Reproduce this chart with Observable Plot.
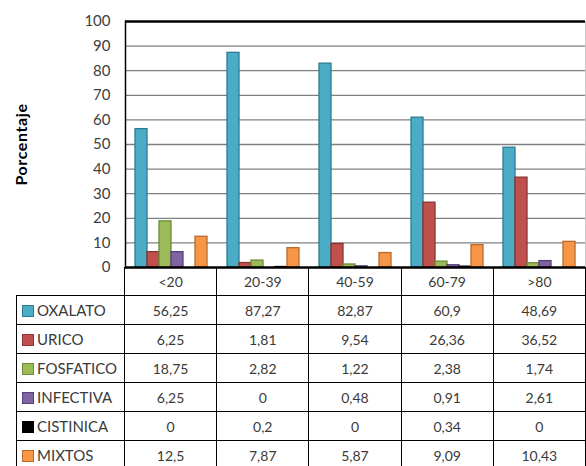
<!DOCTYPE html>
<html><head><meta charset="utf-8">
<script src="https://cdn.jsdelivr.net/npm/d3@7"></script>
<script src="https://cdn.jsdelivr.net/npm/@observablehq/plot@0.6"></script>
<style>
body{margin:0;background:#fff;font-family:Lato,"Open Sans",sans-serif;}
#wrap{position:relative;width:586px;height:466px;overflow:hidden;background:#fff;}
#chart{position:absolute;left:0;top:0;}
#chart svg [aria-label="y-axis label"] text{font-weight:bold;fill:#000;font-size:16px;letter-spacing:0.6px;}
table{position:absolute;left:16px;top:267px;border-collapse:collapse;table-layout:fixed;font-size:14px;color:#3a3a3a;font-family:Lato,sans-serif;background:transparent;}
td{border:1px solid #000;text-align:center;padding:0;height:28px;}
tr.hdr td{height:27px;}
td.blank{border:none;}
td.name{text-align:left;white-space:nowrap;font-size:15px;}
.sw{display:inline-block;width:10px;height:10px;margin:0 3px 0 5px;vertical-align:-1px;border:1px solid;}
</style></head>
<body>
<div id="wrap"><div id="chart"></div><table id="tbl"></table></div>
<script>
const categories = ["<20","20-39","40-59","60-79",">80"];
const series = ["OXALATO","URICO","FOSFATICO","INFECTIVA","CISTINICA","MIXTOS"];
const oxalato   = [56.25, 87.27, 82.87, 60.9, 48.69];
const urico     = [6.25, 1.81, 9.54, 26.36, 36.52];
const fosfatico = [18.75, 2.82, 1.22, 2.38, 1.74];
const infectiva = [6.25, 0, 0.48, 0.91, 2.61];
const cistinica = [0, 0.2, 0, 0.34, 0];
const mixtos    = [12.5, 7.87, 5.87, 9.09, 10.43];
const fills   = ["#4BACC6","#C0504D","#9BBB59","#8064A2","#000000","#F79646"];
const strokes = ["#2C7C93","#8A3431","#6C8A37","#56427A","#000000","#B96A2A"];
const yTicks = [0,10,20,30,40,50,60,70,80,90,100];

const values = [oxalato, urico, fosfatico, infectiva, cistinica, mixtos];
const data = [];
series.forEach((s, i) => categories.forEach((c, j) => data.push({cat: c, serie: s, value: values[i][j]})));
const strokeOf = Object.fromEntries(series.map((s, i) => [s, strokes[i]]));

const chart = Plot.plot({
  width: 586, height: 281,
  marginTop: 21, marginBottom: 14, marginLeft: 125, marginRight: 1,
  style: {fontFamily: "Lato, sans-serif", background: "transparent"},
  fx: {domain: categories, padding: 0, axis: null},
  x: {domain: series, paddingInner: 0, paddingOuter: 0.69, axis: null},
  y: {domain: [0, 100]},
  color: {domain: series, range: fills},
  marks: [
    Plot.ruleY(yTicks.filter(d => d > 0 && d < 100), {stroke: "#7f7f7f", strokeWidth: 1.3}),
    Plot.frame({anchor: "right", facetAnchor: "right", stroke: "#c8c8c8"}),
    Plot.barY(data, {fx: "cat", x: "serie", y: "value", fill: "serie", stroke: d => strokeOf[d.serie], strokeWidth: 1.3}),
    Plot.ruleY([100], {stroke: "#000", strokeWidth: 2.5}),
    Plot.ruleY([0], {stroke: "#000", strokeWidth: 2.5}),
    Plot.frame({anchor: "left", facetAnchor: "left", stroke: "#000", strokeWidth: 1.5}),
    Plot.axisY({ticks: yTicks, tickSize: 0, tickPadding: 15, fontSize: 15, fill: "#404040",
      label: "Porcentaje", labelAnchor: "center", labelOffset: 110, labelArrow: "none"})
  ]
});
document.getElementById("chart").appendChild(chart);

// table
const tbl = document.getElementById("tbl");
const cg = document.createElement("colgroup");
[108, 92.2, 92.2, 92.2, 92.2, 92.2].forEach(w => { const c = document.createElement("col"); c.style.width = w + "px"; cg.appendChild(c); });
tbl.appendChild(cg);
const hdr = document.createElement("tr"); hdr.className = "hdr";
const blank = document.createElement("td"); blank.className = "blank"; hdr.appendChild(blank);
categories.forEach(c => { const td = document.createElement("td"); td.textContent = c; hdr.appendChild(td); });
tbl.appendChild(hdr);
series.forEach((s, i) => {
  const tr = document.createElement("tr");
  const nm = document.createElement("td"); nm.className = "name";
  const sw = document.createElement("span"); sw.className = "sw";
  sw.style.background = fills[i]; sw.style.borderColor = strokes[i];
  nm.appendChild(sw); nm.appendChild(document.createTextNode(s));
  tr.appendChild(nm);
  values[i].forEach(v => { const td = document.createElement("td"); td.textContent = String(v).replace(".", ","); tr.appendChild(td); });
  tbl.appendChild(tr);
});
</script>
</body></html>
